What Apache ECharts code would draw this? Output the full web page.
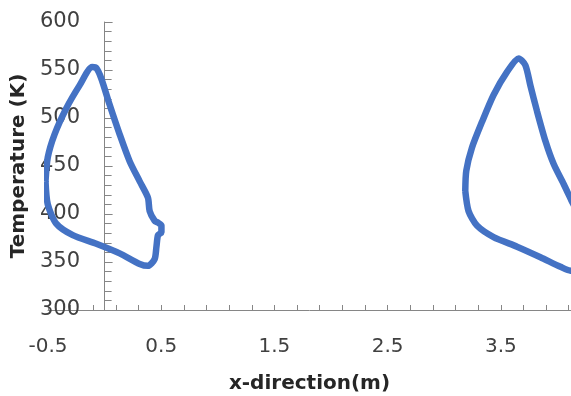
<!DOCTYPE html>
<html>
<head>
<meta charset="utf-8">
<script src="https://cdn.jsdelivr.net/npm/echarts@6/dist/echarts.min.js"></script>
<style>
html,body{margin:0;padding:0;background:#fff;}
#chart{width:571px;height:396px;}
</style>
</head>
<body>
<div id="chart"></div>
<script>
// Loop 1 (left) : [x-direction (m), Temperature (K)]
var loop1X = [-0.522,-0.502,-0.427,-0.281,-0.073,0.133,0.310,0.383,0.442,0.458,0.472,0.502,0.502,0.472,0.442,0.398,0.383,0.310,0.221,0.133,0.044,-0.029,-0.073,-0.109,-0.221,-0.339,-0.442,-0.502,-0.522];
var loop1T = [434,410,390,378,369,359,348,346,353,366,378,381,388,391,393,403,417,434,455,483,514,541,552,553,534,510,483,459,434];
// Loop 2 (right)
var loop2X = [3.186,3.215,3.289,3.436,3.643,3.850,4.027,4.115,4.17,4.21,4.18,4.124,4.056,3.967,3.894,3.820,3.761,3.717,3.658,3.555,3.436,3.334,3.245,3.195,3.186];
var loop2T = [424,403,388,376,366,355,345,341,343,370,400,414,431,452,476,507,534,555,562,548,524,496,469,445,424];
// Axis ticks
var xTickLabels = [-0.5, 0.5, 1.5, 2.5, 3.5];
var xMinorTicks = [-0.5,-0.3,-0.1,0.1,0.3,0.5,0.7,0.9,1.1,1.3,1.5,1.7,1.9,2.1,2.3,2.5,2.7,2.9,3.1,3.3,3.5,3.7,3.9,4.1];
var yTickLabels = [300, 350, 400, 450, 500, 550, 600];

function pairs(xs, ys) {
  var out = [];
  for (var i = 0; i < xs.length; i++) out.push([xs[i], ys[i]]);
  return out;
}

var chart = echarts.init(document.getElementById('chart'));
var blue = '#4472C4';
chart.setOption({
  backgroundColor: '#ffffff',
  animation: false,
  grid: { left: 48, right: 0, top: 22, bottom: 86, containLabel: false, outerBoundsMode: 'none' },
  xAxis: {
    type: 'value',
    min: -0.5,
    max: 4.12,
    name: 'x-direction(m)',
    nameLocation: 'middle',
    nameGap: 64,
    nameTextStyle: { fontFamily: 'DejaVu Sans', fontWeight: 'bold', fontSize: 20, color: '#262626' },
    axisLine: { onZero: false, lineStyle: { color: '#868686', width: 1 } },
    axisTick: { show: true, inside: true, length: 5, customValues: xMinorTicks, lineStyle: { color: '#868686' } },
    axisLabel: { customValues: xTickLabels, margin: 27, fontFamily: 'DejaVu Sans', fontSize: 20, color: '#404040' },
    splitLine: { show: false }
  },
  yAxis: {
    type: 'value',
    min: 300,
    max: 600,
    interval: 50,
    name: 'Temperature (K)',
    nameLocation: 'middle',
    nameGap: 10,
    nameTextStyle: { fontFamily: 'DejaVu Sans', fontWeight: 'bold', fontSize: 20, color: '#262626' },
    axisLine: { onZero: true, lineStyle: { color: '#868686', width: 1 } },
    axisTick: { show: true, inside: true, length: 8, customValues: yTickLabels, lineStyle: { color: '#868686' } },
    minorTick: { show: true, splitNumber: 5, length: 7, lineStyle: { color: '#868686' } },
    axisLabel: { customValues: yTickLabels, margin: -32, fontFamily: 'DejaVu Sans', fontSize: 21, color: '#404040' },
    splitLine: { show: false },
    minorSplitLine: { show: false }
  },
  series: [
    { type: 'line', data: pairs(loop1X, loop1T), showSymbol: false, smooth: 0.25, clip: false,
      lineStyle: { color: blue, width: 6.5 } },
    { type: 'line', data: pairs(loop2X, loop2T), showSymbol: false, smooth: 0.25, clip: false,
      lineStyle: { color: blue, width: 6.5 } }
  ]
});
</script>
</body>
</html>
